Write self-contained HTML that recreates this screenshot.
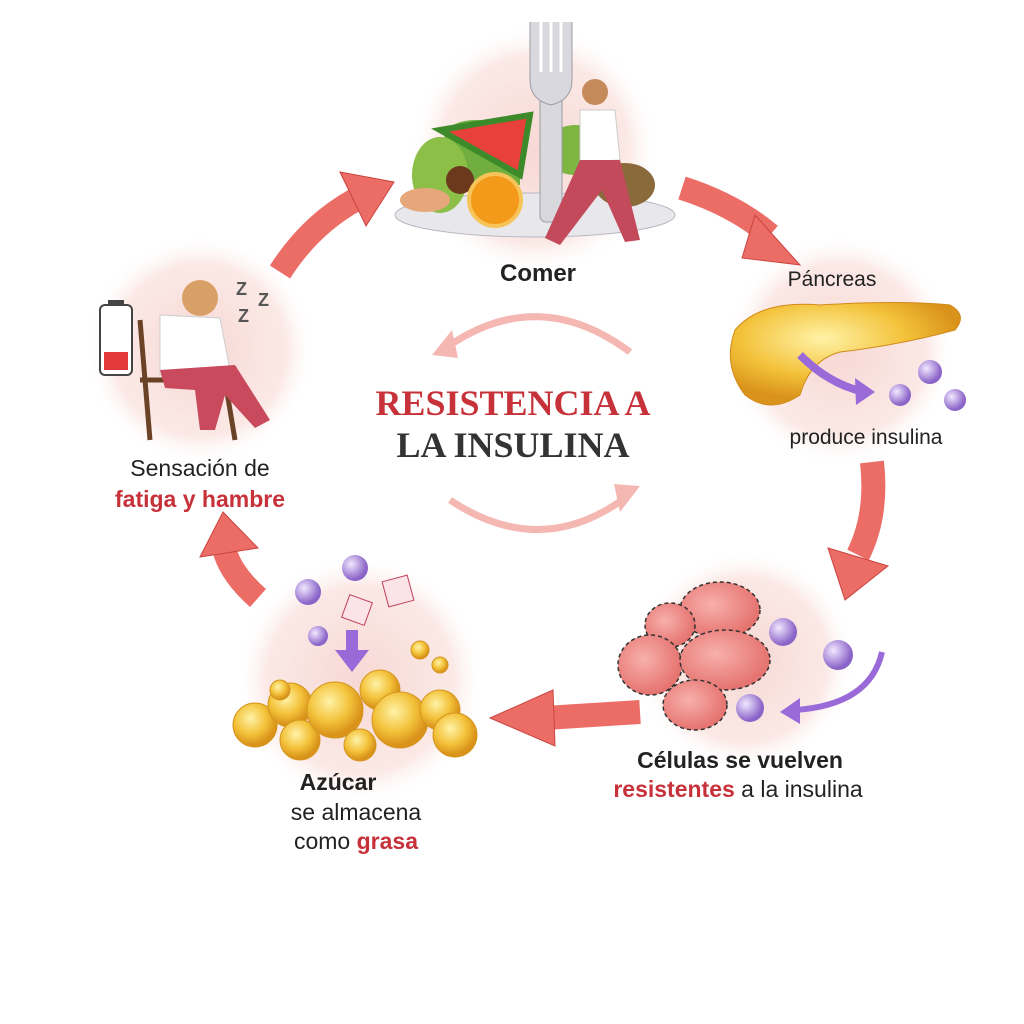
<!DOCTYPE html>
<html><head><meta charset="utf-8"><style>
body{margin:0;background:#fff;}
svg{display:block}
</style></head><body>
<svg width="1024" height="1024" viewBox="0 0 1024 1024" xmlns="http://www.w3.org/2000/svg" font-family="Liberation Sans, sans-serif">
<defs>
<radialGradient id="pk" cx="50%" cy="50%" r="50%">
<stop offset="0" stop-color="#f7d8d4"/><stop offset="0.75" stop-color="#fbe9e6"/><stop offset="1" stop-color="#fff" stop-opacity="0"/>
</radialGradient>
<radialGradient id="gold" cx="40%" cy="35%" r="60%">
<stop offset="0" stop-color="#fff3a8"/><stop offset="0.6" stop-color="#f3c23a"/><stop offset="1" stop-color="#d9921a"/>
</radialGradient>
<radialGradient id="pur" cx="35%" cy="35%" r="60%">
<stop offset="0" stop-color="#f2e8ff"/><stop offset="1" stop-color="#8a64c8"/>
</radialGradient>
<radialGradient id="cell" cx="40%" cy="40%" r="60%">
<stop offset="0" stop-color="#f8b0ac"/><stop offset="1" stop-color="#e5736f"/>
</radialGradient>
</defs>

<circle cx="535" cy="150" r="125" fill="url(#pk)"/>
<circle cx="840" cy="350" r="115" fill="url(#pk)"/>
<circle cx="745" cy="660" r="110" fill="url(#pk)"/>
<circle cx="360" cy="680" r="125" fill="url(#pk)"/>
<circle cx="200" cy="350" r="115" fill="url(#pk)"/>

<!-- big red arrows -->
<g fill="none" stroke="#ec6c66" stroke-width="24" stroke-linecap="butt">
<path d="M280 272 Q310 225 355 200"/>
<path d="M682 188 Q735 205 770 235"/>
<path d="M872 462 Q878 515 858 555"/>
<path d="M640 712 L545 718"/>
<path d="M258 598 Q232 575 225 552"/>
</g>
<g fill="#ec6c66" stroke="#c9443f" stroke-width="1">
<path d="M340 172 L394 182 L366 226 Z"/>
<path d="M755 215 L800 265 L742 258 Z"/>
<path d="M828 548 L888 566 L845 600 Z"/>
<path d="M553 690 L490 718 L555 746 Z"/>
<path d="M200 557 L223 512 L258 548 Z"/>
</g>

<path d="M630 352 Q540 285 450 345" fill="none" stroke="#f4b7b2" stroke-width="7"/>
<path d="M432 355 L452 330 L458 358 Z" fill="#f4b7b2"/>
<path d="M450 500 Q540 560 625 498" fill="none" stroke="#f4b7b2" stroke-width="7"/>
<path d="M640 486 L620 512 L614 484 Z" fill="#f4b7b2"/>

<!-- plate -->
<ellipse cx="535" cy="215" rx="140" ry="22" fill="#e8e8ec" stroke="#b8b8c0"/>
<path d="M445 130 Q470 110 520 130 L520 185 L440 190 Z" fill="#6fae3f"/>
<path d="M440 130 L530 115 L520 175 Z" fill="#e8403a" stroke="#3d8a2a" stroke-width="6"/>
<ellipse cx="440" cy="175" rx="28" ry="38" fill="#8cbf47"/>
<circle cx="460" cy="180" r="14" fill="#6b3a1c"/>
<circle cx="495" cy="200" r="26" fill="#f39a1a" stroke="#f7c45a" stroke-width="4"/>
<ellipse cx="425" cy="200" rx="25" ry="12" fill="#e6a77a"/>
<ellipse cx="625" cy="185" rx="30" ry="22" fill="#8a6a3a"/>
<ellipse cx="575" cy="150" rx="30" ry="25" fill="#7fb542"/>
<!-- fork -->
<rect x="540" y="80" width="22" height="142" rx="6" fill="#d8d8de" stroke="#9c9ca4"/>
<path d="M530 22 L530 80 Q530 100 551 105 Q572 100 572 80 L572 22" fill="#d8d8de" stroke="#9c9ca4"/>
<g stroke="#fff" stroke-width="3"><path d="M541 22 L541 72 M551 22 L551 72 M561 22 L561 72"/></g>
<!-- woman walking -->
<circle cx="595" cy="92" r="13" fill="#c48a5a"/>
<path d="M580 110 L615 110 L620 160 L580 162 Z" fill="#fff" stroke="#ccc"/>
<path d="M580 160 L620 160 L640 240 L625 242 L602 190 L560 245 L545 238 Z" fill="#c24a5a"/>

<!-- pancreas -->
<path d="M735 330 Q760 300 820 305 Q900 300 950 305 Q968 315 955 330 Q900 345 840 352 Q810 360 800 395 Q770 415 745 395 Q722 365 735 330 Z" fill="url(#gold)" stroke="#d28a1a"/>
<path d="M800 355 Q830 385 865 392" fill="none" stroke="#9a6ad8" stroke-width="8"/>
<path d="M875 392 L855 378 L856 405 Z" fill="#9a6ad8"/>
<circle cx="900" cy="395" r="11" fill="url(#pur)"/>
<circle cx="930" cy="372" r="12" fill="url(#pur)"/>
<circle cx="955" cy="400" r="11" fill="url(#pur)"/>

<!-- cells -->
<g stroke="#333" stroke-dasharray="4 3" stroke-width="1.5" fill="url(#cell)">
<ellipse cx="720" cy="610" rx="40" ry="28"/>
<ellipse cx="670" cy="625" rx="25" ry="22"/>
<ellipse cx="650" cy="665" rx="32" ry="30"/>
<ellipse cx="725" cy="660" rx="45" ry="30"/>
<ellipse cx="695" cy="705" rx="32" ry="25"/>
</g>
<circle cx="783" cy="632" r="14" fill="url(#pur)"/>
<circle cx="838" cy="655" r="15" fill="url(#pur)"/>
<circle cx="750" cy="708" r="14" fill="url(#pur)"/>
<path d="M882 652 Q870 705 795 710" fill="none" stroke="#9a6ad8" stroke-width="6"/>
<path d="M780 712 L800 698 L800 724 Z" fill="#9a6ad8"/>

<!-- fat -->
<g fill="url(#gold)" stroke="#d4961e">
<circle cx="255" cy="725" r="22"/><circle cx="290" cy="705" r="22"/><circle cx="300" cy="740" r="20"/>
<circle cx="335" cy="710" r="28"/><circle cx="380" cy="690" r="20"/><circle cx="400" cy="720" r="28"/>
<circle cx="440" cy="710" r="20"/><circle cx="455" cy="735" r="22"/><circle cx="360" cy="745" r="16"/>
<circle cx="420" cy="650" r="9"/><circle cx="440" cy="665" r="8"/><circle cx="280" cy="690" r="10"/>
</g>
<circle cx="355" cy="568" r="13" fill="url(#pur)"/><circle cx="308" cy="592" r="13" fill="url(#pur)"/>
<circle cx="318" cy="636" r="10" fill="url(#pur)"/>
<rect x="385" y="578" width="26" height="26" fill="#fbe3e8" stroke="#c0405a" transform="rotate(-15 398 591)"/>
<rect x="345" y="598" width="24" height="24" fill="#fbe3e8" stroke="#c0405a" transform="rotate(20 357 610)"/>
<rect x="346" y="630" width="12" height="22" fill="#9a6ad8"/><path d="M335 650 L369 650 L352 672 Z" fill="#9a6ad8"/>

<!-- tired woman -->
<rect x="100" y="305" width="32" height="70" rx="5" fill="#fff" stroke="#444" stroke-width="2"/>
<rect x="108" y="300" width="16" height="6" fill="#444"/>
<rect x="104" y="352" width="24" height="18" fill="#e23a3a"/>
<path d="M140 320 L150 440 M225 380 L235 440 M140 380 L240 380" stroke="#6a4327" stroke-width="5" fill="none"/>
<circle cx="200" cy="298" r="18" fill="#d8a066"/>
<path d="M160 315 L220 318 L230 370 L160 375 Z" fill="#fff" stroke="#ccc"/>
<path d="M160 370 L235 365 L270 420 L255 428 L225 395 L215 430 L200 430 L195 390 L165 388 Z" fill="#c94a5c"/>
<text x="236" y="295" font-size="18" font-weight="bold" fill="#555">Z</text>
<text x="258" y="306" font-size="18" font-weight="bold" fill="#555">Z</text>
<text x="238" y="322" font-size="18" font-weight="bold" fill="#555">Z</text>

<g font-size="22" text-anchor="middle" fill="#222">
<text x="538" y="281" font-weight="bold" font-size="24">Comer</text>
<text x="832" y="286" font-size="21">Páncreas</text>
<text x="866" y="444" font-size="21">produce insulina</text>
<text x="740" y="768" font-weight="bold" font-size="23">Células se vuelven</text>
<text x="738" y="797" font-size="23"><tspan fill="#c7323a" font-weight="bold">resistentes</tspan> a la insulina</text>
<text x="338" y="790" font-weight="bold" font-size="23">Azúcar</text>
<text x="356" y="820" font-size="23">se almacena</text>
<text x="356" y="849" font-size="23">como <tspan fill="#c7323a" font-weight="bold">grasa</tspan></text>
<text x="200" y="476" font-size="23">Sensación de</text>
<text x="200" y="507" font-size="23" font-weight="bold" fill="#c7323a">fatiga y hambre</text>
</g>
<g font-family="Liberation Serif, serif" font-weight="bold" text-anchor="middle" font-size="36">
<text x="513" y="415" fill="#c7323a">RESISTENCIA A</text>
<text x="513" y="457" fill="#333">LA INSULINA</text>
</g>
</svg>
</body></html>
